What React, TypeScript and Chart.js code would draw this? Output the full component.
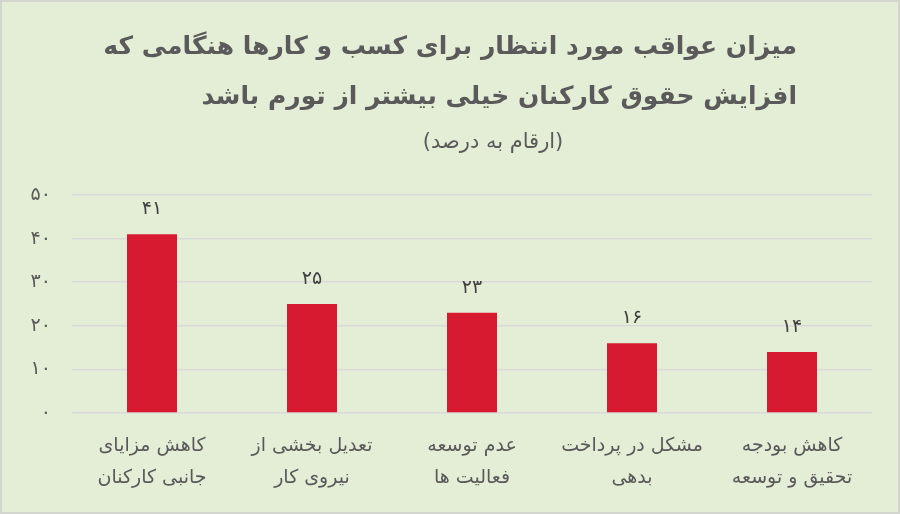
import React, { useEffect, useRef } from "react";
import { Chart, registerables } from "chart.js";

Chart.register(...registerables);

const categories: string[][] = [
  ["کاهش مزایای", "جانبی کارکنان"],
  ["تعدیل بخشی از", "نیروی کار"],
  ["عدم توسعه", "فعالیت ها"],
  ["مشکل در پرداخت", "بدهی"],
  ["کاهش بودجه", "تحقیق و توسعه"],
];
const values: number[] = [41, 25, 23, 16, 14];
const titleLines: string[] = [
  "میزان عواقب مورد انتظار برای کسب و کارها هنگامی که",
  "افزایش حقوق کارکنان خیلی بیشتر از تورم باشد",
];
const subtitleText = "(ارقام به درصد)";
const yMax = 50;
const yStep = 10;

const FONT = "'DejaVu Sans', 'Noto Sans', sans-serif";
const persianDigits = "۰۱۲۳۴۵۶۷۸۹";
const toFa = (n: number | string) =>
  String(n).replace(/[0-9]/g, (d) => persianDigits[Number(d)]);

const bgPlugin = {
  id: "bgPlugin",
  beforeDraw(chart: any) {
    const { ctx, width, height } = chart;
    ctx.save();
    ctx.fillStyle = "#e4eed6";
    ctx.fillRect(0, 0, width, height);
    ctx.strokeStyle = "#d3d6cf";
    ctx.lineWidth = 2;
    ctx.strokeRect(1, 1, width - 2, height - 2);
    ctx.restore();
  },
};

const titlePlugin = {
  id: "titlePlugin",
  afterDraw(chart: any) {
    const { ctx } = chart;
    ctx.save();
    ctx.fillStyle = "#5a5a5a";
    ctx.textBaseline = "middle";
    ctx.textAlign = "right";
    ctx.font = `bold 25px ${FONT}`;
    ctx.fillText(titleLines[0], 797, 47);
    ctx.fillText(titleLines[1], 797, 97);
    ctx.textAlign = "center";
    ctx.font = `21px ${FONT}`;
    ctx.fillText(subtitleText, 493, 143);
    ctx.restore();
  },
};

const valueLabelPlugin = {
  id: "valueLabelPlugin",
  afterDatasetsDraw(chart: any) {
    const { ctx } = chart;
    const meta = chart.getDatasetMeta(0);
    ctx.save();
    ctx.fillStyle = "#404040";
    ctx.font = `19px ${FONT}`;
    ctx.textAlign = "center";
    ctx.textBaseline = "middle";
    meta.data.forEach((bar: any, i: number) => {
      ctx.fillText(toFa(values[i]), bar.x, bar.y - 25);
    });
    ctx.restore();
  },
};

export default function App() {
  const canvasRef = useRef<HTMLCanvasElement | null>(null);

  useEffect(() => {
    if (!canvasRef.current) return;
    const chart = new Chart(canvasRef.current, {
      type: "bar",
      data: {
        labels: categories,
        datasets: [
          {
            data: values,
            backgroundColor: "#d71a30",
            borderWidth: 0,
            barPercentage: 0.3125,
            categoryPercentage: 1,
          },
        ],
      },
      options: {
        animation: false,
        responsive: true,
        maintainAspectRatio: false,
        layout: { padding: { top: 195, right: 28, left: 0, bottom: 0 } },
        plugins: {
          legend: { display: false },
          tooltip: { enabled: false },
          title: { display: false },
        },
        scales: {
          x: {
            grid: { display: false, drawTicks: false },
            border: { display: false },
            ticks: {
              color: "#595959",
              font: { family: FONT, size: 19, lineHeight: 1.7 },
              padding: 17,
              maxRotation: 0,
              autoSkip: false,
            },
            afterFit(scale: any) {
              scale.height = 101;
            },
          },
          y: {
            min: 0,
            max: yMax,
            grid: { color: "#d9d9d9", lineWidth: 1.5, drawTicks: false },
            border: { display: false },
            ticks: {
              stepSize: yStep,
              color: "#595959",
              font: { family: FONT, size: 19 },
              padding: 21,
              callback: (v: any) => toFa(v),
            },
            afterFit(scale: any) {
              scale.width = 72;
            },
          },
        },
      },
      plugins: [bgPlugin, titlePlugin, valueLabelPlugin],
    });
    return () => chart.destroy();
  }, []);

  return (
    <div
      style={{
        position: "fixed",
        top: 0,
        left: 0,
        width: 900,
        height: 514,
      }}
    >
      <canvas ref={canvasRef} />
    </div>
  );
}
